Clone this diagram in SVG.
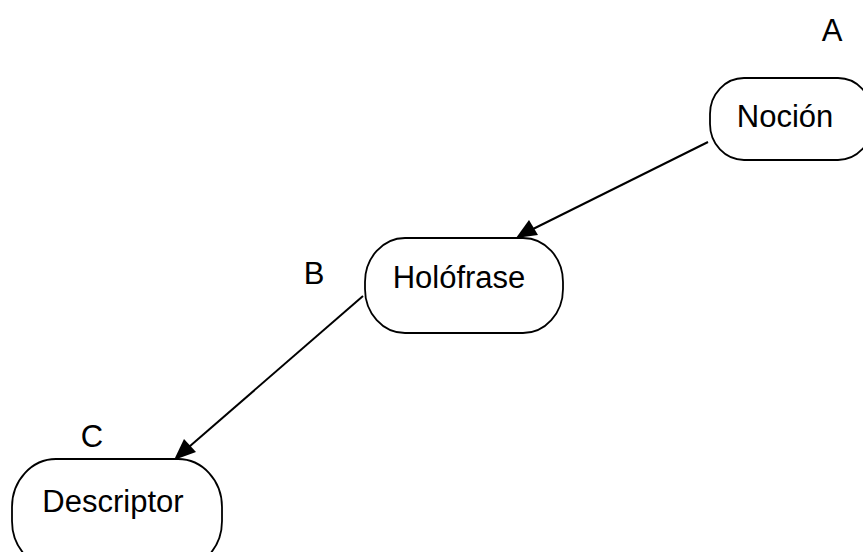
<svg xmlns="http://www.w3.org/2000/svg" width="863" height="552" viewBox="0 0 863 552">
  <defs>
    <style>
      .node { fill: #ffffff; stroke: #000000; stroke-width: 1.8; }
      .label { font-family: "Liberation Sans", Arial, sans-serif; font-size: 31px; fill: #000000; }
      .edge { stroke: #000000; stroke-width: 2; fill: none; }
      .head { fill: #000000; }
    </style>
  </defs>
  <rect width="863" height="552" fill="#ffffff"/>

  <g id="edges">
    <line class="edge" x1="708" y1="142" x2="525" y2="233"/>
    <polygon class="head" points="516,238 529,220 538,235"/>
    <line class="edge" x1="363" y1="296" x2="182" y2="453"/>
    <polygon class="head" points="174,460 184,439 196,452"/>
  </g>

  <g id="node-nocion">
    <rect class="node" x="710" y="78" width="162" height="82" rx="34" ry="36"/>
    <text class="label" x="785" y="127" text-anchor="middle">Noción</text>
  </g>

  <g id="node-holofrase">
    <rect class="node" x="365" y="238" width="198" height="95" rx="40" ry="44"/>
    <text class="label" x="459" y="288" text-anchor="middle">Holófrase</text>
  </g>

  <g id="node-descriptor">
    <rect class="node" x="12" y="459" width="210" height="110" rx="44" ry="48"/>
    <text class="label" x="113" y="512" text-anchor="middle">Descriptor</text>
  </g>

  <g id="tags">
    <text class="label" x="832" y="41" text-anchor="middle">A</text>
    <text class="label" x="314" y="284" text-anchor="middle">B</text>
    <text class="label" x="92" y="447" text-anchor="middle">C</text>
  </g>
</svg>
